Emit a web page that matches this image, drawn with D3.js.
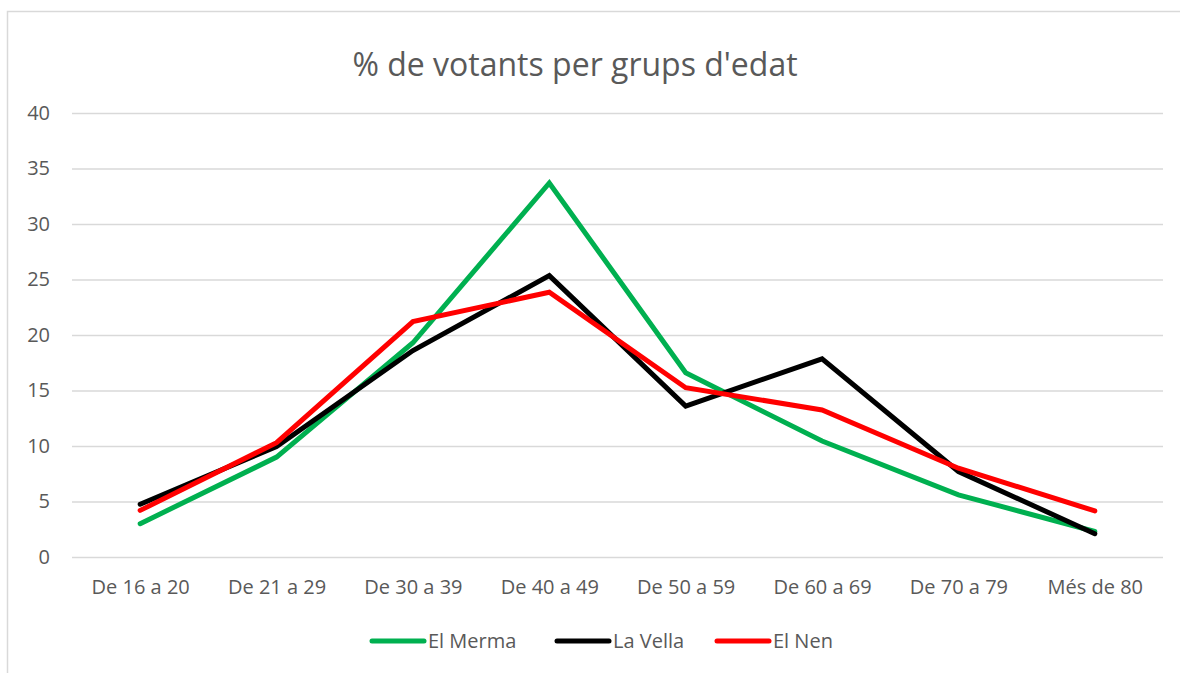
<!DOCTYPE html>
<html>
<head>
<meta charset="utf-8">
<script src="https://cdn.jsdelivr.net/npm/d3@7"></script>
<style>
  html, body { margin: 0; padding: 0; background: #fff; }
  svg { display: block; }
</style>
</head>
<body>
<svg id="chart" width="1180" height="673"></svg>
<script>
const categories = ["De 16 a 20", "De 21 a 29", "De 30 a 39", "De 40 a 49", "De 50 a 59", "De 60 a 69", "De 70 a 79", "Més de 80"];
const elMerma = [3.0, 9.0, 19.3, 33.7, 16.6, 10.45, 5.6, 2.3];
const laVella = [4.75, 9.95, 18.6, 25.35, 13.6, 17.85, 7.7, 2.1];
const elNen = [4.2, 10.3, 21.2, 23.85, 15.25, 13.25, 8.0, 4.15];
const yTicks = [0, 5, 10, 15, 20, 25, 30, 35, 40];
const seriesNames = ["El Merma", "La Vella", "El Nen"];
const seriesColors = ["#00B050", "#000000", "#FF0000"];
const title = "% de votants per grups d'edat";

const series = [elMerma, laVella, elNen].map((vals, i) => ({ name: seriesNames[i], color: seriesColors[i], values: vals }));

const svg = d3.select("#chart");
const font = "'Open Sans', 'Liberation Sans', sans-serif";
const textColor = "#595959";

// chart frame
svg.append("rect").attr("x", 7.5).attr("y", 11.5).attr("width", 1200).attr("height", 700)
  .attr("fill", "none").attr("stroke", "#d9d9d9").attr("stroke-width", 1.5);

const plotLeft = 72, plotRight = 1163, plotTop = 113, plotBottom = 557;
const x = d3.scalePoint().domain(categories).range([plotLeft, plotRight]).padding(0.5);
const y = d3.scaleLinear().domain([0, 40]).range([plotBottom, plotTop]);

// gridlines
const yAxis = d3.axisLeft(y).tickValues(yTicks).tickSize(-(plotRight - plotLeft)).tickPadding(22);
const gy = svg.append("g").attr("transform", `translate(${plotLeft},0)`).call(yAxis);
gy.select(".domain").remove();
gy.selectAll(".tick line").attr("stroke", "#d9d9d9").attr("stroke-width", 1.5);
gy.selectAll(".tick text").attr("fill", textColor).style("font-family", font).style("font-size", "20px");

// x axis labels
const xAxis = d3.axisBottom(x).tickSize(0).tickPadding(23);
const gx = svg.append("g").attr("transform", `translate(0,${plotBottom})`).call(xAxis);
gx.select(".domain").remove();
gx.selectAll(".tick text").attr("fill", textColor).style("font-family", font).style("font-size", "20px");

// lines
const line = d3.line().x((d, i) => x(categories[i])).y(d => y(d));
svg.append("g").selectAll("path").data(series).join("path")
  .attr("d", d => line(d.values))
  .attr("fill", "none")
  .attr("stroke", d => d.color)
  .attr("stroke-width", 5)
  .attr("stroke-linejoin", "miter")
  .attr("stroke-linecap", "round");

// title
svg.append("text").attr("x", 575).attr("y", 76).attr("text-anchor", "middle")
  .attr("fill", textColor).style("font-family", font).style("font-size", "32px")
  .text(title);

// legend
const legendX = [370, 555, 715];
const lg = svg.append("g").selectAll("g").data(series).join("g")
  .attr("transform", (d, i) => `translate(${legendX[i]},641)`);
lg.append("line").attr("x1", 2).attr("x2", 54).attr("y1", 0).attr("y2", 0)
  .attr("stroke", d => d.color).attr("stroke-width", 5).attr("stroke-linecap", "round");
lg.append("text").attr("x", 58).attr("y", 0).attr("dy", "0.35em")
  .attr("fill", textColor).style("font-family", font).style("font-size", "20px")
  .text(d => d.name);
</script>
</body>
</html>
